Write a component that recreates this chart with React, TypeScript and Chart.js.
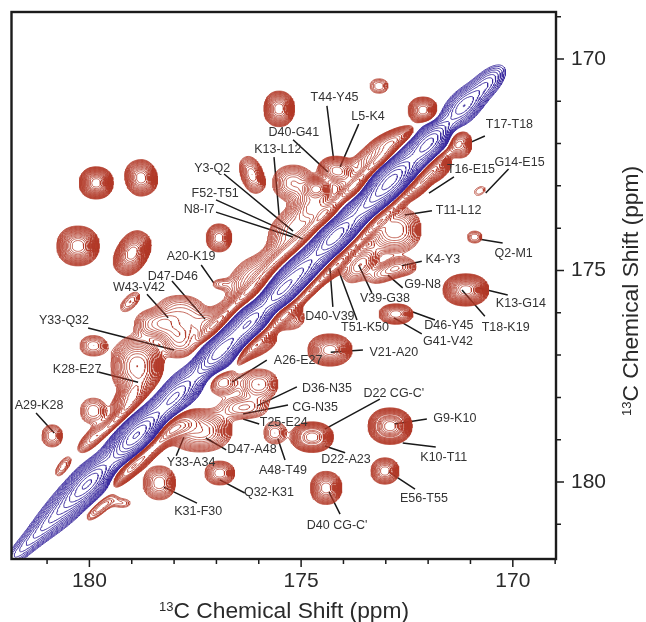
import React, { useEffect, useRef } from "react";
import { Chart, registerables } from "chart.js";

Chart.register(...registerables);

// Tick positions, ppm
const majorTicks = [180, 175, 170];
const minorTicks = [181, 179, 178, 177, 176, 174, 173, 172, 171, 169];

// Diagonal (blue) peaks: centre, radii along/across the tilt, tilt, contour count
const diagX = [181.35, 180.6, 180.0, 178.9, 177.98, 176.92, 176.2, 175.5, 175.0, 174.2, 173.4, 172.85, 172.0, 171.18, 170.64];
const diagY = [181.35, 180.6, 180.0, 178.9, 177.98, 176.92, 176.2, 175.5, 175.0, 174.2, 173.4, 172.85, 172.0, 171.13, 170.61];
const diagA = [1.1, 1.0, 1.0, 1.1, 0.95, 1.05, 0.85, 0.8, 0.8, 1.0, 0.85, 1.0, 0.9, 0.6, 0.6];
const diagB = [0.2, 0.36, 0.42, 0.46, 0.42, 0.42, 0.4, 0.4, 0.4, 0.42, 0.4, 0.48, 0.42, 0.36, 0.28];
const diagRings = [8, 12, 20, 24, 18, 22, 20, 20, 18, 22, 18, 24, 20, 14, 10];

// Cross peaks (red)
const crossX = [
  179.84, 178.78, 180.27, 178.99, 176.94, 176.16, 175.52, 173.16, 172.12, 171.25, 170.78, 170.9, 171.11, 176.92,
  179.04, 179.91, 180.88, 180.62, 179.75, 179.23, 178.35, 176.92, 175.62, 174.74, 174.41, 174.32, 172.9, 173.02, 172.76,
  179.94, 179.91, 178.87, 179.04, 178.5, 178.02, 177.86, 177.39, 177.86, 176.98, 176.21, 175.62, 175.14,
  175.19, 174.63, 174.63, 174.18, 173.85, 173.31, 172.85,
  172.12, 171.72, 172.79, 173.61, 173.02, 172.6, 174.18, 175.31, 175.97, 176.86, 176.0, 176.36, 177.9, 177.39, 178.64, 179.11,
  179.32, 177.03, 176.33, 175.62, 175.03, 174.44, 173.73, 173.14,
  178.92, 178.21, 176.09, 175.38, 174.67, 173.96, 173.26, 172.55, 171.84,
];
const crossY = [
  172.93, 172.81, 174.42, 174.59, 174.23, 172.74, 171.18, 170.64, 171.21, 172.01, 173.12, 174.21, 175.46, 175.32,
  175.74, 176.78, 178.91, 179.64, 180.61, 180.5, 180.02, 179.79, 178.84, 178.94, 180.14, 176.88, 178.68, 179.74, 176.03,
  178.98, 178.32, 177.26, 178.01, 176.26, 176.31, 176.71, 176.26, 175.89, 176.12, 175.27, 174.63, 173.92,
  172.93, 173.45, 173.05, 172.62, 172.98, 172.32, 171.91,
  172.93, 172.62, 174.04, 174.87, 175.06, 174.92, 174.92, 176.12, 176.78, 177.64, 177.69, 178.25, 178.72, 178.79, 179.34, 179.74,
  178.49, 176.29, 175.58, 174.8, 174.28, 173.69, 172.98, 172.39,
  179.6, 178.89, 176.76, 176.05, 175.34, 174.63, 173.92, 173.22, 172.51,
];
const crossA = [
  0.4, 0.38, 0.5, 0.56, 0.3, 0.45, 0.36, 0.21, 0.35, 0.28, 0.13, 0.17, 0.54, 0.15,
  0.28, 0.31, 0.24, 0.26, 0.42, 0.19, 0.38, 0.35, 0.26, 0.5, 0.37, 0.52, 0.52, 0.33, 0.4,
  0.42, 0.3, 0.62, 0.52, 0.42, 0.36, 0.4, 0.36, 0.5, 0.45, 0.62, 0.6, 0.72,
  0.48, 0.5, 0.34, 0.42, 0.45, 0.6, 0.6,
  0.55, 0.3, 0.62, 0.5, 0.42, 0.3, 0.4, 0.38, 0.42, 0.35, 0.45, 0.55, 0.55, 0.75, 0.85, 0.35,
  0.65, 0.65, 0.65, 0.65, 0.65, 0.65, 0.65, 0.65,
  0.65, 0.65, 0.65, 0.65, 0.65, 0.65, 0.65, 0.65, 0.65,
];
const crossB = [
  0.38, 0.43, 0.47, 0.38, 0.33, 0.26, 0.42, 0.17, 0.31, 0.33, 0.09, 0.14, 0.38, 0.09,
  0.14, 0.24, 0.26, 0.12, 0.14, 0.1, 0.4, 0.28, 0.26, 0.36, 0.39, 0.38, 0.43, 0.31, 0.24,
  0.18, 0.3, 0.72, 0.28, 0.32, 0.3, 0.36, 0.32, 0.3, 0.22, 0.46, 0.24, 0.42,
  0.42, 0.45, 0.26, 0.32, 0.36, 0.26, 0.22,
  0.18, 0.18, 0.55, 0.28, 0.2, 0.18, 0.15, 0.28, 0.2, 0.3, 0.36, 0.25, 0.25, 0.5, 0.18, 0.14,
  0.15, 0.15, 0.15, 0.15, 0.15, 0.15, 0.15, 0.15,
  0.15, 0.15, 0.15, 0.15, 0.15, 0.15, 0.15, 0.15, 0.15,
];
const crossTilt = [
  0, 15, 0, 60, 0, -70, 0, 0, 0, 0, 30, 0, 0, 0,
  45, 0, 0, 55, 40, 0, 0, 0, 0, 0, 0, 0, 0, 0, 0,
  45, 0, 0, 45, 0, 0, 0, 0, 0, 45, 50, 45, 40,
  0, 0, 0, 0, 0, 30, 25,
  45, 45, 0, 45, 20, 0, 45, 0, 30, 0, 0, 0, 30, 0, 40, 40,
  45, 45, 45, 45, 45, 45, 45, 45,
  45, 45, 45, 45, 45, 45, 45, 45, 45,
];
const crossRings = [
  22, 18, 20, 20, 14, 12, 18, 5, 16, 12, 2, 5, 22, 3,
  5, 8, 8, 5, 8, 3, 12, 12, 7, 20, 16, 18, 24, 14, 14,
  10, 7, 16, 14, 10, 8, 10, 8, 8, 7, 11, 8, 12,
  12, 14, 18, 16, 10, 12, 14,
  14, 10, 12, 10, 8, 6, 10, 8, 10, 9, 10, 8, 16, 14, 12, 8,
  12, 12, 12, 12, 12, 12, 12, 12,
  12, 12, 12, 12, 12, 12, 12, 12, 12,
];

// Assignment labels, ppm
const labelNames = [
  "D40-G41", "K13-L12", "Y3-Q2", "F52-T51", "N8-I7", "A20-K19", "D47-D46", "W43-V42", "T44-Y45", "L5-K4",
  "T17-T18", "T16-E15", "G14-E15", "T11-L12", "Q2-M1", "K4-Y3", "G9-N8", "V39-G38", "K13-G14", "T18-K19",
  "D40-V39", "T51-K50", "D46-Y45", "G41-V42", "V21-A20", "D36-N35", "CG-N35", "T25-E24", "A26-E27", "D47-A48",
  "A48-T49", "Y33-A34", "Q32-K31", "K31-F30", "Y33-Q32", "K28-E27", "A29-K28", "D22 CG-C'", "D22-A23", "G9-K10",
  "K10-T11", "E56-T55", "D40 CG-C'",
];
const labelX = [
  175.17, 175.55, 177.1, 177.03, 177.41, 177.6, 178.03, 178.83, 174.21, 173.42,
  170.08, 170.99, 169.84, 171.28, 169.98, 171.65, 172.13, 173.02, 169.81, 170.17,
  174.32, 173.49, 171.51, 171.53, 172.81, 174.39, 174.67, 175.41, 175.07, 176.16,
  175.43, 177.6, 175.76, 177.43, 180.6, 180.29, 181.19, 172.81, 173.94, 171.37,
  171.63, 172.1, 174.15,
];
const labelY = [
  171.73, 172.13, 172.58, 173.17, 173.57, 174.66, 175.15, 175.41, 170.92, 171.37,
  171.54, 172.62, 172.46, 173.59, 174.59, 174.75, 175.34, 175.67, 175.77, 176.36,
  176.08, 176.34, 176.31, 176.69, 176.93, 177.78, 178.25, 178.6, 177.12, 179.24,
  179.72, 179.55, 180.26, 180.69, 176.19, 177.35, 178.2, 177.9, 179.48, 178.51,
  179.43, 180.4, 181.04,
];
const leaderX0 = [
  175.19, 175.64, 176.82, 177.01, 177.01, 177.36, 178.05, 178.64, 174.39, 173.64,
  170.66, 171.39, 170.1, 171.91, 170.24, 172.15, 172.6, 173.33, 170.12, 171.2,
  174.32, 174.13, 172.36, 172.81, 174.3, 176.04, 176.37, 176.37, 176.63, 177.25,
  175.55, 177.77, 176.92, 178.24, 180.03, 179.79, 181.26, 173.14, 174.44, 172.79,
  172.6, 172.93, 174.34,
];
const leaderY0 = [
  171.91, 172.32, 172.72, 173.33, 173.62, 174.87, 175.25, 175.56, 171.11, 171.54,
  171.82, 172.79, 172.6, 173.59, 174.35, 174.78, 175.41, 175.53, 175.58, 175.46,
  174.94, 174.96, 175.98, 176.12, 176.93, 178.2, 178.39, 178.51, 177.64, 178.96,
  178.98, 178.94, 179.95, 180.12, 176.36, 177.4, 178.37, 178.04, 179.15, 178.63,
  179.08, 179.76, 180.24,
];
const leaderX1 = [
  174.37, 175.52, 175.19, 174.96, 175.19, 177.06, 177.27, 178.14, 174.23, 174.08,
  171.04, 171.98, 170.64, 172.55, 170.78, 172.62, 172.95, 173.64, 170.83, 170.66,
  174.25, 173.68, 171.84, 172.15, 173.54, 175.1, 175.31, 175.99, 175.81, 176.77,
  175.38, 177.95, 176.33, 177.46, 178.0, 178.85, 180.83, 174.44, 173.96, 172.03,
  171.82, 172.31, 174.08,
];
const leaderY1 = [
  172.67, 173.69, 174.07, 174.26, 174.21, 175.3, 176.15, 176.12, 172.39, 172.55,
  171.99, 173.17, 173.17, 173.69, 174.26, 174.89, 175.11, 174.87, 175.41, 176.08,
  175.86, 176.17, 176.17, 176.5, 176.88, 177.75, 178.18, 178.63, 177.12, 179.24,
  179.48, 179.38, 180.26, 180.5, 176.88, 177.64, 178.84, 178.75, 179.31, 178.51,
  179.17, 180.17, 180.76,
];

const xMin = 168.98, xMax = 181.84, yMin = 168.89, yMax = 181.82;
const GRID = 430;
const STEP = 1.13;
const BLUE_STEP = 1.2;
const RED_LEVELS = 34;
const BLUE_LEVELS = 22;

function addPeaks(field: Float64Array, sign: number, q: number, pw: number, xs: number[], ys: number[], as: number[], bs: number[], tilts: number[], rings: number[]) {
  const lnS = Math.log(STEP);
  for (let p = 0; p < xs.length; p++) {
    const rad = (tilts[p] * Math.PI) / 180, c = Math.cos(rad), s = Math.sin(rad);
    const k = rings[p] * lnS, h = Math.exp(k);
    const reach = Math.max(as[p], bs[p]) * 3;
    for (let j = 0; j <= GRID; j++) {
      const y = yMin + ((yMax - yMin) * j) / GRID;
      if (Math.abs(y - ys[p]) > reach) continue;
      for (let i = 0; i <= GRID; i++) {
        const x = xMin + ((xMax - xMin) * i) / GRID;
        if (Math.abs(x - xs[p]) > reach) continue;
        const dv = -(x - xs[p]), du = -(y - ys[p]);
        const a = Math.abs((dv * c + du * s) / as[p]), b = Math.abs((-dv * s + du * c) / bs[p]);
        const u = Math.pow(Math.pow(a, q) + Math.pow(b, q), 1 / q);
        field[j * (GRID + 1) + i] += sign * h * Math.exp(-Math.pow(u, 2 * pw) * k);
      }
    }
  }
}

// Trace one contour of the field into a polyline list with gaps
function traceLevel(field: Float64Array, level: number) {
  const W = GRID + 1;
  const pos = new Map<number, [number, number]>();
  const adj = new Map<number, number[]>();
  const v = (i: number, j: number) => field[j * W + i] * Math.sign(level) - Math.abs(level);
  const edgePoint = (id: number): void => {
    if (pos.has(id)) return;
    const horiz = id % 2 === 0;
    const n = Math.floor(id / 2);
    const i = n % W, j = Math.floor(n / W);
    const a = v(i, j), b = horiz ? v(i + 1, j) : v(i, j + 1);
    const t = a / (a - b);
    const gx = horiz ? i + t : i, gy = horiz ? j : j + t;
    pos.set(id, [xMin + ((xMax - xMin) * gx) / GRID, yMin + ((yMax - yMin) * gy) / GRID]);
  };
  const link = (a: number, b: number) => {
    edgePoint(a); edgePoint(b);
    if (!adj.has(a)) adj.set(a, []);
    if (!adj.has(b)) adj.set(b, []);
    adj.get(a)!.push(b); adj.get(b)!.push(a);
  };
  for (let j = 0; j < GRID; j++) {
    for (let i = 0; i < GRID; i++) {
      const c0 = v(i, j) > 0 ? 1 : 0, c1 = v(i + 1, j) > 0 ? 1 : 0, c2 = v(i + 1, j + 1) > 0 ? 1 : 0, c3 = v(i, j + 1) > 0 ? 1 : 0;
      const code = c0 | (c1 << 1) | (c2 << 2) | (c3 << 3);
      if (code === 0 || code === 15) continue;
      const top = 2 * (j * W + i), bottom = 2 * ((j + 1) * W + i), left = 2 * (j * W + i) + 1, right = 2 * (j * W + i + 1) + 1;
      switch (code) {
        case 1: case 14: link(left, top); break;
        case 2: case 13: link(top, right); break;
        case 3: case 12: link(left, right); break;
        case 4: case 11: link(right, bottom); break;
        case 6: case 9: link(top, bottom); break;
        case 7: case 8: link(left, bottom); break;
        case 5: link(left, top); link(right, bottom); break;
        case 10: link(top, right); link(left, bottom); break;
      }
    }
  }
  const seen = new Set<number>();
  const out: { x: number; y: number }[] = [];
  const ids = Array.from(adj.keys());
  ids.sort((a, b) => (adj.get(a)!.length - adj.get(b)!.length));
  for (const start of ids) {
    if (seen.has(start)) continue;
    let cur = start;
    const first = pos.get(start)!;
    out.push({ x: first[0], y: first[1] });
    seen.add(cur);
    for (;;) {
      const nxt = (adj.get(cur) || []).find((n) => !seen.has(n));
      if (nxt === undefined) break;
      seen.add(nxt);
      const p = pos.get(nxt)!;
      out.push({ x: p[0], y: p[1] });
      cur = nxt;
    }
    if ((adj.get(cur) || []).includes(start)) out.push({ x: first[0], y: first[1] });
    out.push({ x: NaN, y: NaN });
  }
  return out;
}

function buildContours() {
  const field = new Float64Array((GRID + 1) * (GRID + 1));
  addPeaks(field, 1, 2.2, 1.15, crossX, crossY, crossA, crossB, crossTilt, crossRings);
  addPeaks(field, -1, 2, 1, diagX, diagY, diagA, diagB, diagX.map(() => 45), diagRings);
  const sets: any[] = [];
  for (let k = 0; k < RED_LEVELS; k++) {
    sets.push({ data: traceLevel(field, Math.pow(STEP, k)), borderColor: "#b23a28", borderWidth: 0.75, pointRadius: 0, showLine: true, spanGaps: false, parsing: false });
  }
  for (let k = 0; k < BLUE_LEVELS; k++) {
    sets.push({ data: traceLevel(field, -Math.pow(BLUE_STEP, k)), borderColor: "#3a2a9e", borderWidth: 0.9, pointRadius: 0, showLine: true, spanGaps: false, parsing: false });
  }
  return sets;
}

const leaderData: { x: number; y: number }[] = [];
labelNames.forEach((_, i) => {
  leaderData.push({ x: leaderX0[i], y: leaderY0[i] }, { x: leaderX1[i], y: leaderY1[i] }, { x: NaN, y: NaN });
});

const frame = {
  id: "frame",
  afterDraw(chart: any) {
    const { ctx, chartArea: a, scales } = chart;
    const sx = scales.x, sy = scales.y;
    ctx.save();
    ctx.strokeStyle = "#1c1c1c";
    ctx.lineWidth = 2.4;
    ctx.strokeRect(a.left, a.top, a.right - a.left, a.bottom - a.top);
    ctx.lineWidth = 1.5;
    const tick = (v: number, len: number) => {
      const px = sx.getPixelForValue(v), py = sy.getPixelForValue(v);
      ctx.beginPath();
      ctx.moveTo(px, a.bottom); ctx.lineTo(px, a.bottom + len);
      ctx.moveTo(a.right, py); ctx.lineTo(a.right + len, py);
      ctx.stroke();
    };
    majorTicks.forEach((v) => tick(v, 8));
    minorTicks.forEach((v) => tick(v, 5));

    ctx.fillStyle = "#333";
    ctx.font = "12.5px 'Liberation Sans'";
    ctx.textAlign = "center";
    ctx.textBaseline = "middle";
    labelNames.forEach((t, i) => ctx.fillText(t, sx.getPixelForValue(labelX[i]), sy.getPixelForValue(labelY[i])));

    const title = (x: number, y: number, rot: number) => {
      ctx.save();
      ctx.translate(x, y);
      ctx.rotate(rot);
      ctx.textAlign = "left";
      ctx.textBaseline = "alphabetic";
      ctx.fillStyle = "#2a2a2a";
      ctx.font = "13px 'Liberation Sans'";
      ctx.fillText("13", 0, -7);
      ctx.font = "22.8px 'Liberation Sans'";
      ctx.fillText("C Chemical Shift (ppm)", 14.5, 0);
      ctx.restore();
    };
    title(159, 618, 0);
    title(638, 416, -Math.PI / 2);
    ctx.restore();
  },
};

export default function App() {
  const ref = useRef<HTMLCanvasElement>(null);
  useEffect(() => {
    document.body.style.margin = "0";
    const datasets = buildContours();
    datasets.push({ data: leaderData, borderColor: "#1a1a1a", borderWidth: 1.5, pointRadius: 0, showLine: true, spanGaps: false, parsing: false });
    const tickFont = { family: "'Liberation Sans'", size: 21 };
    const chart = new Chart(ref.current!, {
      type: "scatter",
      data: { datasets },
      plugins: [frame],
      options: {
        animation: false,
        responsive: false,
        layout: { padding: { left: 11.5, top: 12, right: 0, bottom: 0 } },
        plugins: { legend: { display: false }, tooltip: { enabled: false } },
        scales: {
          x: {
            type: "linear", min: xMin, max: xMax, reverse: true, position: "bottom",
            grid: { display: false, drawTicks: false }, border: { display: false },
            afterBuildTicks: (s: any) => { s.ticks = majorTicks.map((value) => ({ value })); },
            afterFit: (s: any) => { s.height = 63; s.paddingLeft = 0; s.paddingRight = 0; s.paddingTop = 0; s.paddingBottom = 0; },
            ticks: { font: tickFont, color: "#2a2a2a", padding: 10, maxRotation: 0, autoSkip: false },
          },
          y: {
            type: "linear", min: yMin, max: yMax, reverse: true, position: "right",
            grid: { display: false, drawTicks: false }, border: { display: false },
            afterBuildTicks: (s: any) => { s.ticks = majorTicks.map((value) => ({ value })); },
            afterFit: (s: any) => { s.width = 90; s.paddingLeft = 0; s.paddingRight = 0; s.paddingTop = 0; s.paddingBottom = 0; },
            ticks: { font: tickFont, color: "#2a2a2a", padding: 15, autoSkip: false },
          },
        },
      },
    } as any);
    return () => chart.destroy();
  }, []);
  return <canvas ref={ref} width={646} height={622} style={{ display: "block" }} />;
}
